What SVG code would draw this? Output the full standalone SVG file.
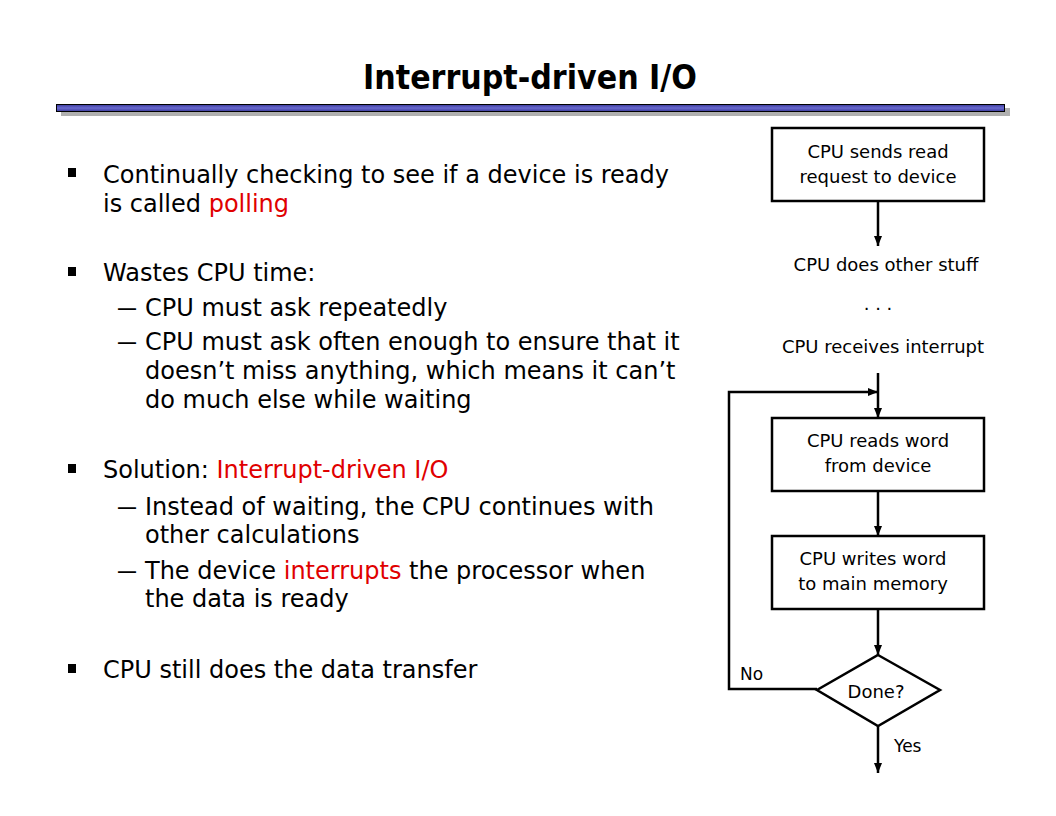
<svg xmlns="http://www.w3.org/2000/svg" width="1056" height="816" viewBox="0 0 1056 816">
<defs>
<linearGradient id="bar" x1="0" y1="0" x2="0" y2="1">
<stop offset="0" stop-color="#3a3a9a"/>
<stop offset="0.5" stop-color="#6a6ad0"/>
<stop offset="1" stop-color="#3a3a9a"/>
</linearGradient>
<marker id="ah" viewBox="0 0 10 10" refX="10" refY="5" markerWidth="4" markerHeight="4" markerUnits="strokeWidth" orient="auto">
<path d="M0,1 L10,5 L0,9 z" fill="#000"/>
</marker>
</defs>
<style>
.t{font-family:"DejaVu Sans",sans-serif;fill:#000}
.b{font-size:24px}
.r{fill:#e00000}
.n{font-size:18px;text-anchor:middle}
.box{fill:#fff;stroke:#000;stroke-width:2.5}
.c{fill:none;stroke:#000;stroke-width:2.5}
</style>
<rect width="1056" height="816" fill="#fff"/>
<text x="530" y="89" font-family="'DejaVu Sans Condensed','DejaVu Sans',sans-serif" font-size="33.5" font-weight="bold" text-anchor="middle">Interrupt-driven I/O</text>
<rect x="61" y="108" width="949" height="8" fill="#b0b0b0"/>
<rect x="56.5" y="104.5" width="948" height="7" fill="url(#bar)" stroke="#000" stroke-width="1"/>

<g id="bullets">
<rect x="68" y="168" width="8" height="9" fill="#000"/>
<text class="t b" x="103" y="183">Continually checking to see if a device is ready</text>
<text class="t b" x="103" y="212">is called <tspan class="r">polling</tspan></text>
<rect x="68" y="267" width="8" height="9" fill="#000"/>
<text class="t b" x="103" y="281">Wastes CPU time:</text>
<text class="t b" x="117" y="316" textLength="20" lengthAdjust="spacingAndGlyphs">—</text>
<text class="t b" x="145" y="316">CPU must ask repeatedly</text>
<text class="t b" x="117" y="350" textLength="20" lengthAdjust="spacingAndGlyphs">—</text>
<text class="t b" x="145" y="350">CPU must ask often enough to ensure that it</text>
<text class="t b" x="145" y="379">doesn’t miss anything, which means it can’t</text>
<text class="t b" x="145" y="408">do much else while waiting</text>
<rect x="68" y="464" width="8" height="9" fill="#000"/>
<text class="t b" x="103" y="478">Solution: <tspan class="r">Interrupt-driven I/O</tspan></text>
<text class="t b" x="117" y="515" textLength="20" lengthAdjust="spacingAndGlyphs">—</text>
<text class="t b" x="145" y="515">Instead of waiting, the CPU continues with</text>
<text class="t b" x="145" y="543">other calculations</text>
<text class="t b" x="117" y="579" textLength="20" lengthAdjust="spacingAndGlyphs">—</text>
<text class="t b" x="145" y="579">The device <tspan class="r">interrupts</tspan> the processor when</text>
<text class="t b" x="145" y="607">the data is ready</text>
<rect x="68" y="664" width="8" height="9" fill="#000"/>
<text class="t b" x="103" y="678">CPU still does the data transfer</text>
</g>

<g id="connectors">
<line class="c" x1="878" y1="201" x2="878" y2="246" marker-end="url(#ah)"/>
<line class="c" x1="878" y1="373" x2="878" y2="418" marker-end="url(#ah)"/>
<polyline class="c" points="817,689 729,689 729,392 878,392" marker-end="url(#ah)"/>
<line class="c" x1="878" y1="491" x2="878" y2="536" marker-end="url(#ah)"/>
<line class="c" x1="878" y1="609" x2="878" y2="655" marker-end="url(#ah)"/>
<line class="c" x1="878" y1="726" x2="878" y2="773" marker-end="url(#ah)"/>
<text class="t" x="740" y="680" font-size="17">No</text>
<text class="t" x="894" y="752" font-size="17">Yes</text>
</g>

<g id="n1">
<rect class="box" x="772" y="128" width="212" height="73"/>
<text class="t n" x="878" y="158">CPU sends read</text>
<text class="t n" x="878" y="183">request to device</text>
</g>
<g id="n2">
<text class="t n" x="886" y="271">CPU does other stuff</text>
</g>
<g id="n3">
<text class="t n" x="878" y="310">. . .</text>
</g>
<g id="n4">
<text class="t n" x="883" y="353">CPU receives  interrupt</text>
</g>
<g id="n5">
<rect class="box" x="772" y="418" width="212" height="73"/>
<text class="t n" x="878" y="447">CPU reads word</text>
<text class="t n" x="878" y="472">from device</text>
</g>
<g id="n6">
<rect class="box" x="772" y="536" width="212" height="73"/>
<text class="t n" x="873" y="565">CPU writes word</text>
<text class="t n" x="873" y="590">to main memory</text>
</g>
<g id="n7">
<polygon class="box" points="878,655 940,690 878,726 817,690"/>
<text class="t n" x="876" y="698">Done?</text>
</g>
</svg>
